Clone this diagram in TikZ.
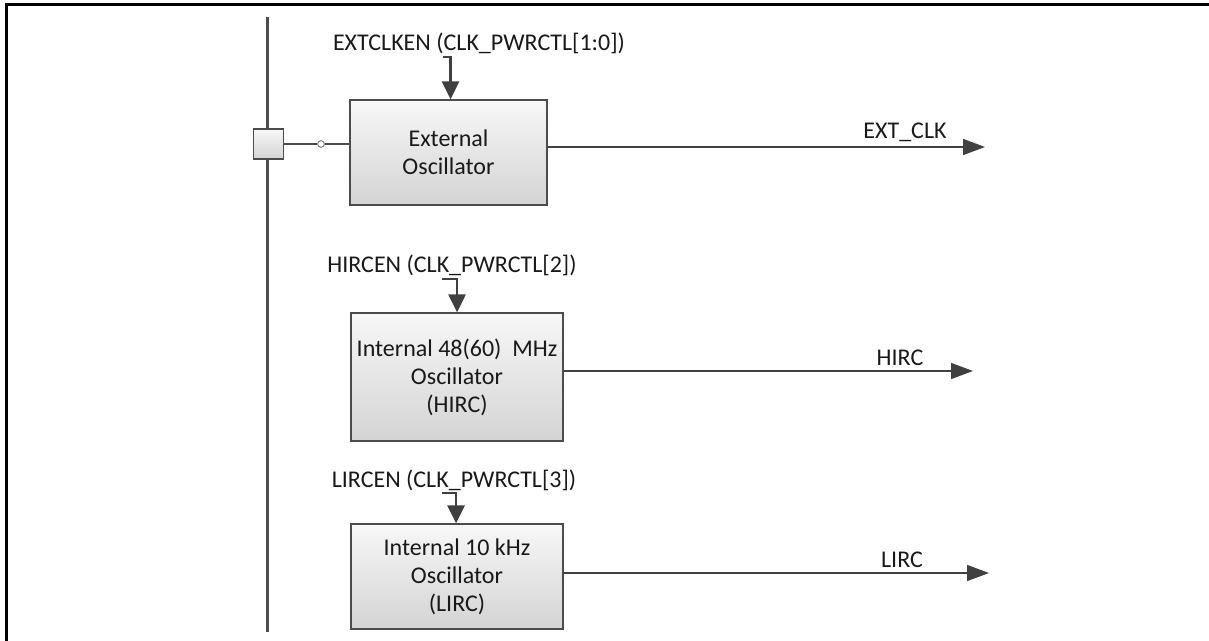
\documentclass[tikz,border=0pt]{standalone}
\usepackage{fontspec}
\setmainfont{Carlito}
\usetikzlibrary{arrows.meta,positioning}
\tikzset{
    %Define standard arrow tip
    >={Triangle[length=16.5pt,width=12pt]},
    %Define style for oscillator boxes
    osc/.style={
           rectangle,
           draw=black!70, line width=0.9pt,
           top color=black!3, bottom color=black!17,
           minimum width=159pt,
           font=\fontsize{18}{21}\selectfont,
           text=black!90,
           align=center},
    pad/.style={
           rectangle,
           draw=black!70, line width=0.9pt,
           top color=black!3, bottom color=black!17,
           minimum width=23pt,
           minimum height=22.5pt},
    ring/.style={
           circle,
           draw=black!60, line width=0.6pt,
           fill=white,
           inner sep=0pt,
           minimum size=5pt},
    lbl/.style={
           font=\fontsize{18}{21}\selectfont,
           text=black!90,
           inner sep=1pt},
    % Define arrow styles
    sig/.style={
           ->,
           draw=black!75, line width=1.1pt},
    en/.style={
           -{Triangle[length=13.5pt,width=12.75pt]},
           draw=black!75, line width=2.2pt}
}
\begin{document}
\begin{tikzpicture}[x=0.75pt,y=-0.75pt]
\useasboundingbox (0,0) rectangle (1209,641);
 %frame and bus
\draw[line width=2.25pt] (6.5,641) -- (6.5,5) -- (1209,5);
\draw[line width=2.25pt, black!70] (267,17) -- (267,632);
 %nodes
\node[pad](pad) at (268.5,144){};
\node[ring](ring) at (321,144){};
\node[osc, minimum width=147.75pt, minimum height=78.75pt](ext) at (448.5,152.5){External\\Oscillator};
\node[osc, minimum height=96pt](hirc) at (457,377){Internal 48(60)\ \ MHz\\Oscillator\\(HIRC)};
\node[osc, minimum height=78.75pt](lirc) at (457,576.5){Internal 10 kHz\\Oscillator\\(LIRC)};
\node[lbl](extEn) at (479,43){EXTCLKEN (CLK\_PWRCTL[1:0])};
\node[lbl](hircEn) at (452,265){HIRCEN (CLK\_PWRCTL[2])};
\node[lbl](lircEn) at (454,480){LIRCEN (CLK\_PWRCTL[3])};
 %enable inputs
\coordinate (extIn) at (443,57);
\coordinate (hircIn) at (442,279);
\coordinate (lircIn) at (442,493);
\draw[en] (extIn) -| ([xshift=1.5pt]ext.north);
\draw[en] (hircIn) -| (hirc.north);
\draw[en] (lircIn) -| ([xshift=-0.75pt]lirc.north);
 %pad to oscillator
\draw[draw=black!70, line width=0.9pt] (pad.east) -- (ring.west);
\draw[draw=black!70, line width=0.9pt] (ring.east) -- (ring.east -| ext.west);
 %outputs
\coordinate (extOut) at (985,147);
\coordinate (hircOut) at (973,371);
\coordinate (lircOut) at (989,573);
\draw[sig] (ext.east |- extOut) -- (extOut);
\draw[sig] (hirc.east |- hircOut) -- (hircOut);
\draw[sig] (lirc.east |- lircOut) -- (lircOut);
\node[lbl, anchor=south](extLbl) at (905,143){EXT\_CLK};
\node[lbl, anchor=south](hircLbl) at (900,367){HIRC};
\node[lbl, anchor=south](lircLbl) at (902,569){LIRC};
\end{tikzpicture}
\end{document}
